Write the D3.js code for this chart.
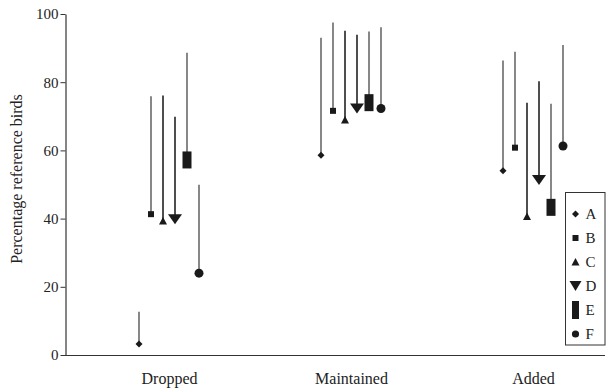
<!DOCTYPE html>
<html><head><meta charset="utf-8">
<script src="https://cdn.jsdelivr.net/npm/d3@7"></script>
<style>body{margin:0;background:#fff}svg{display:block}text{font-family:"Liberation Serif","Times New Roman",serif;fill:#222}</style>
</head><body><svg id="c" width="607" height="390"></svg>
<script>
const categories = ["Dropped","Maintained","Added"];
const seriesNames = ["A","B","C","D","E","F"];
const meanA = [3.2, 58.6, 54.0];
const meanB = [41.3, 71.6, 60.8];
const meanC = [39.3, 68.9, 40.6];
const meanD = [39.8, 72.3, 51.3];
const meanE = [57.2, 74.0, 43.3];
const meanF = [24.0, 72.3, 61.3];
const upA = [12.7, 93.0, 86.4];
const upB = [75.9, 97.5, 88.9];
const upC = [76.1, 95.1, 74.0];
const upD = [69.9, 93.9, 80.3];
const upE = [88.6, 94.9, 73.7];
const upF = [49.9, 96.1, 90.9];
const yTicks = [0,20,40,60,80,100];

const means = [meanA,meanB,meanC,meanD,meanE,meanF];
const ups = [upA,upB,upC,upD,upE,upF];
const lineColors = ["#6a6a6a","#6a6a6a","#222","#222","#6a6a6a","#6a6a6a"];

const svg = d3.select("#c");
const y = d3.scaleLinear().domain([0,100]).range([355,14]);
const x = d3.scalePoint().domain(categories).range([169,533]);
const xs = d3.scalePoint().domain(seriesNames).range([-30,30]);

function shape(g, s, cx, cy, legend){
  const c = "#1a1a1a";
  if (s==="A") g.append("path").attr("d",`M${cx},${cy-3.5}L${cx+3.5},${cy}L${cx},${cy+3.5}L${cx-3.5},${cy}Z`).attr("fill",c);
  else if (s==="B") g.append("rect").attr("x",cx-3).attr("y",cy-3).attr("width",6).attr("height",6).attr("fill",c);
  else if (s==="C") g.append("path").attr("d",`M${cx},${cy-4}L${cx+4},${cy+3.5}L${cx-4},${cy+3.5}Z`).attr("fill",c);
  else if (s==="D") { const w = legend?6:7; g.append("path").attr("d",`M${cx-w},${cy-5}L${cx+w},${cy-5}L${cx},${cy+5}Z`).attr("fill",c); }
  else if (s==="E") { const w = legend?7:9, h = legend?18:17; g.append("rect").attr("x",cx-w/2).attr("y",cy-h/2).attr("width",w).attr("height",h).attr("fill",c); }
  else if (s==="F") g.append("circle").attr("cx",cx).attr("cy",cy).attr("r",legend?3.6:4.5).attr("fill",c);
}

// y axis
const ya = svg.append("g").attr("transform","translate(65.5,0)")
  .call(d3.axisLeft(y).tickValues(yTicks).tickSize(5).tickSizeOuter(0));
ya.select(".domain").attr("stroke","#333").attr("stroke-width",1.2);
ya.selectAll(".tick line").attr("stroke","#333");
ya.selectAll(".tick text").style("font-size","15px").style("font-family","Liberation Serif").attr("fill","#222").attr("x",-7);

// x axis
const xa = svg.append("g").attr("transform","translate(0,355.5)")
  .call(d3.axisBottom(x).tickSize(0).tickPadding(17));
xa.select(".domain").remove();
xa.append("line").attr("x1",65).attr("x2",605).attr("stroke","#333").attr("stroke-width",1.2);
xa.selectAll(".tick text").style("font-size","16px").style("font-family","Liberation Serif").attr("fill","#222");

svg.append("text").attr("transform","translate(22,179) rotate(-90)").attr("text-anchor","middle")
  .style("font-size","16px").text("Percentage reference birds");

// data
const marks = svg.append("g");
seriesNames.forEach((s,i)=>{
  categories.forEach((cat,j)=>{
    const cx = x(cat)+xs(s);
    marks.append("line").attr("x1",cx).attr("x2",cx).attr("y1",y(ups[i][j])).attr("y2",y(means[i][j]))
      .attr("stroke",lineColors[i]).attr("stroke-width",1.6);
    shape(marks, s, cx, y(means[i][j]), false);
  });
});

// legend
const lg = svg.append("g");
lg.append("rect").attr("x",565.5).attr("y",192.5).attr("width",39.5).attr("height",152.5).attr("fill","#fff").attr("stroke","#333").attr("stroke-width",1);
seriesNames.forEach((s,i)=>{
  const cy = 214 + i*24;
  shape(lg, s, 575.5, cy, true);
  lg.append("text").attr("x",585.5).attr("y",cy+5).style("font-size","15px").text(s);
});
</script></body></html>
